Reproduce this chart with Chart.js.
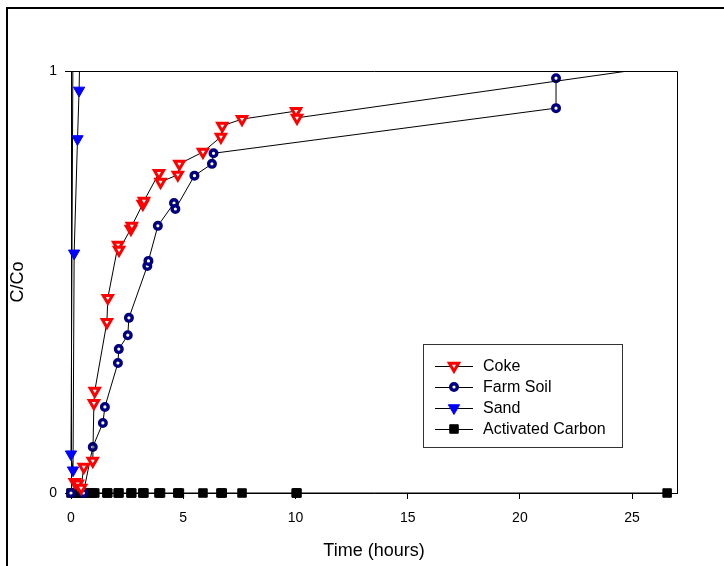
<!DOCTYPE html>
<html>
<head>
<meta charset="utf-8">
<script src="https://cdn.jsdelivr.net/npm/chart.js@4/dist/chart.umd.min.js"></script>
<style>
  html, body { margin: 0; padding: 0; background: #fff; }
  #chart { display: block; }
</style>
</head>
<body>
<canvas id="chart" width="724" height="566"></canvas>
<script>
// ====== DATA ======
const timeCoke = [0.17, 0.30, 0.45, 0.57, 0.97, 1.02, 1.06, 1.60, 1.64, 2.10, 2.14, 2.67, 2.71, 3.20, 3.25, 3.92, 3.99, 4.76, 4.83, 5.88, 6.68, 6.74, 7.62, 10.03, 10.07, 28.0];
const coke     = [0.026, 0.022, 0.012, 0.062, 0.076, 0.213, 0.242, 0.405, 0.462, 0.588, 0.576, 0.626, 0.633, 0.685, 0.692, 0.758, 0.737, 0.754, 0.780, 0.808, 0.844, 0.870, 0.886, 0.905, 0.889, 1.024];

const timeSoil = [0, 0.55, 0.97, 1.42, 1.51, 2.09, 2.13, 2.53, 2.58, 3.40, 3.45, 3.87, 4.59, 4.65, 5.50, 6.28, 6.35, 21.61, 21.61];
const soil     = [0, 0, 0.109, 0.166, 0.204, 0.308, 0.341, 0.374, 0.415, 0.538, 0.550, 0.633, 0.687, 0.673, 0.752, 0.780, 0.805, 0.912, 0.983];

const timeSand = [0.10, 0, 0.09, 0.14, 0.29, 0.36, 0.45];
const sand     = [1.2, 0.092, 0.054, 0.568, 0.839, 0.954, 1.2];

const timeCarbon = [0, 0.17, 0.30, 0.45, 0.57, 0.84, 0.97, 1.06, 1.60, 1.64, 2.10, 2.14, 2.67, 2.71, 3.20, 3.25, 3.92, 3.99, 4.76, 4.83, 5.88, 6.68, 6.74, 7.62, 10.03, 10.07, 26.56];
const carbon     = timeCarbon.map(() => 0);

const xTitle = "Time (hours)";
const yTitle = "C/Co";

const FONT = "'Liberation Sans', Arial, sans-serif";

function pts(xs, ys) {
  return xs.map((x, i) => ({ x, y: ys[i] }));
}

const clipArea = { left: 10, top: 0, right: 10, bottom: 10 };

// ====== PLUGINS ======
const framePlugin = {
  id: "frame",
  beforeDraw(chart) {
    const c = chart.ctx;
    c.save();
    c.fillStyle = "#fff";
    c.fillRect(0, 0, chart.width, chart.height);
    c.strokeStyle = "#000";
    c.lineWidth = 2;
    c.beginPath();
    c.moveTo(7, chart.height);
    c.lineTo(7, 8);
    c.lineTo(chart.width, 8);
    c.stroke();
    c.restore();
  },
  beforeDatasetsDraw(chart) {
    const { left, top, right, bottom } = chart.chartArea;
    const c = chart.ctx;
    c.save();
    c.strokeStyle = "#000";
    c.lineWidth = 1;
    c.beginPath();
    c.moveTo(left, top + 0.5);
    c.lineTo(Math.round(right) + 0.5, top + 0.5);
    c.lineTo(Math.round(right) + 0.5, bottom);
    c.stroke();
    c.restore();
  }
};

const legendPlugin = {
  id: "boxLegend",
  afterDatasetsDraw(chart) {
    const c = chart.ctx;
    c.save();
    c.fillStyle = "#fff";
    c.fillRect(423.5, 344.5, 199, 103);
    c.strokeStyle = "#333";
    c.lineWidth = 1;
    c.strokeRect(423.5, 344.5, 199, 103);
    chart.data.datasets.forEach((ds, i) => {
      const y = 366 + i * 21;
      c.strokeStyle = "#000";
      c.lineWidth = 1;
      c.beginPath();
      c.moveTo(435, y + 0.5);
      c.lineTo(473, y + 0.5);
      c.stroke();
      c.fillStyle = ds.pointBackgroundColor;
      c.strokeStyle = ds.pointBorderColor;
      c.lineWidth = ds.pointBorderWidth;
      Chart.helpers.drawPoint(c, {
        pointStyle: ds.pointStyle,
        rotation: ds.pointRotation || 0,
        radius: ds.pointRadius,
        borderWidth: ds.pointBorderWidth
      }, 454, y);
      c.fillStyle = "#000";
      c.font = "16px " + FONT;
      c.textBaseline = "middle";
      c.textAlign = "left";
      c.fillText(ds.label, 483, y + 1);
    });
    c.restore();
  }
};

// ====== CHART ======
const lineBase = {
  borderColor: "#000",
  borderWidth: 1,
  showLine: true,
  tension: 0,
  clip: clipArea
};

new Chart(document.getElementById("chart"), {
  type: "line",
  data: {
    datasets: [
      Object.assign({}, lineBase, {
        label: "Coke",
        data: pts(timeCoke, coke),
        pointStyle: "triangle",
        pointRotation: 180,
        pointRadius: 5.3,
        pointBorderWidth: 3,
        pointBackgroundColor: "#fff",
        pointBorderColor: "#ff0000"
      }),
      Object.assign({}, lineBase, {
        label: "Farm Soil",
        data: pts(timeSoil, soil),
        pointStyle: "circle",
        pointRadius: 3.3,
        pointBorderWidth: 3.4,
        pointBackgroundColor: "#fff",
        pointBorderColor: "#000080"
      }),
      Object.assign({}, lineBase, {
        label: "Sand",
        data: pts(timeSand, sand),
        pointStyle: "triangle",
        pointRotation: 180,
        pointRadius: 6.5,
        pointBorderWidth: 1,
        pointBackgroundColor: "#0000ff",
        pointBorderColor: "#0000ff"
      }),
      Object.assign({}, lineBase, {
        label: "Activated Carbon",
        data: pts(timeCarbon, carbon),
        pointStyle: "rect",
        pointRadius: 6,
        pointBorderWidth: 1,
        pointBackgroundColor: "#000",
        pointBorderColor: "#000"
      })
    ]
  },
  options: {
    responsive: false,
    animation: false,
    devicePixelRatio: 1,
    layout: { padding: { left: 0, top: 71, right: 47, bottom: 0 } },
    plugins: {
      legend: { display: false },
      tooltip: { enabled: false }
    },
    scales: {
      x: {
        type: "linear",
        min: 0,
        max: 27,
        afterFit: s => { s.height = 73; },
        border: { display: true, color: "#000", width: 1 },
        grid: { display: true, drawOnChartArea: false, drawTicks: true, tickLength: 6, color: "#000" },
        ticks: {
          stepSize: 5,
          includeBounds: false,
          padding: 11,
          color: "#000",
          font: { family: FONT, size: 14 },
          maxRotation: 0
        },
        title: {
          display: true,
          text: xTitle,
          color: "#000",
          font: { family: FONT, size: 18 },
          padding: { top: 0, bottom: 4 }
        }
      },
      y: {
        type: "linear",
        min: 0,
        max: 1,
        afterFit: s => { s.width = 71; },
        border: { display: true, color: "#000", width: 1 },
        grid: { display: true, drawOnChartArea: false, drawTicks: true, tickLength: 6, color: "#000" },
        ticks: {
          stepSize: 1,
          includeBounds: false,
          padding: 8,
          color: "#000",
          font: { family: FONT, size: 14 },
          callback: v => String(v)
        },
        title: {
          display: true,
          text: yTitle,
          color: "#000",
          font: { family: FONT, size: 18 },
          padding: { top: 7, bottom: 0 }
        }
      }
    }
  },
  plugins: [framePlugin, legendPlugin]
});
</script>
</body>
</html>
